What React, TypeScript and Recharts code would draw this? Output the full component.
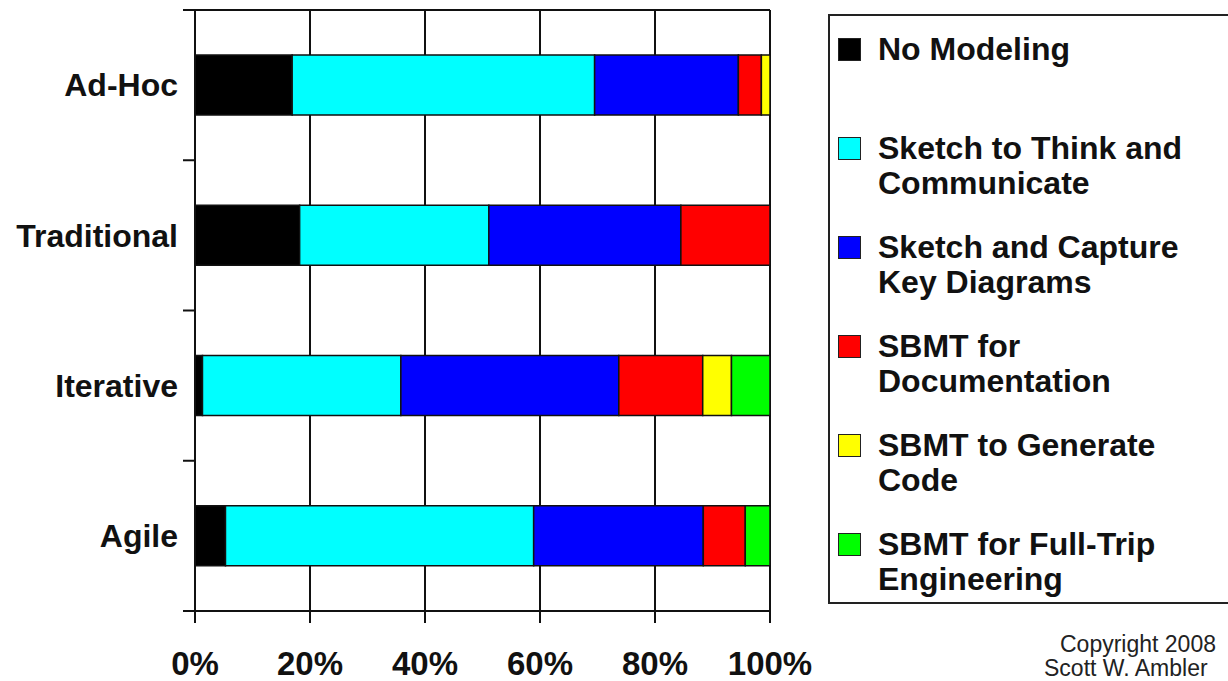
import React from 'react';
import { BarChart, Bar, XAxis, YAxis, CartesianGrid, Legend } from 'recharts';

// ---- data ----
const categories = ['Ad-Hoc', 'Traditional', 'Iterative', 'Agile'];
const noModeling = [16.9, 18.2, 1.3, 5.3];
const sketchThink = [52.6, 32.9, 34.5, 53.6];
const sketchCapture = [25.0, 33.4, 37.9, 29.5];
const sbmtDocumentation = [4.0, 15.5, 14.6, 7.3];
const sbmtGenerate = [1.5, 0, 5.0, 0];
const sbmtFullTrip = [0, 0, 6.7, 4.3];
const xTicks = [0, 20, 40, 60, 80, 100];

const seriesNames = [
  'No Modeling',
  'Sketch to Think and Communicate',
  'Sketch and Capture Key Diagrams',
  'SBMT for Documentation',
  'SBMT to Generate Code',
  'SBMT for Full-Trip Engineering',
];
const legendLines = [
  ['No Modeling'],
  ['Sketch to Think and', 'Communicate'],
  ['Sketch and Capture', 'Key Diagrams'],
  ['SBMT for', 'Documentation'],
  ['SBMT to Generate', 'Code'],
  ['SBMT for Full-Trip', 'Engineering'],
];
const seriesKeys = ['noModeling', 'sketchThink', 'sketchCapture', 'sbmtDocumentation', 'sbmtGenerate', 'sbmtFullTrip'];
const seriesValues = [noModeling, sketchThink, sketchCapture, sbmtDocumentation, sbmtGenerate, sbmtFullTrip];
const seriesColors = ['#000000', '#00FFFF', '#0000FF', '#FF0000', '#FFFF00', '#00FF00'];
const copyrightLines = ['Copyright 2008', 'Scott W. Ambler'];

const data = categories.map((name, i) => {
  const row: Record<string, any> = { name };
  seriesKeys.forEach((k, s) => {
    row[k] = seriesValues[s][i];
  });
  return row;
});

// ---- layout ----
const W = 1228;
const H = 681;
const MARGIN = { top: 9, right: 458, bottom: 0, left: 0 };
const TOP_AXIS_H = 1;
const X_AXIS_H = 70;
const Y_AXIS_W = 195;
const PLOT_H = H - MARGIN.top - MARGIN.bottom - TOP_AXIS_H - X_AXIS_H;
const BAND = PLOT_H / categories.length;
const FONT = '"Liberation Sans", Arial, Helvetica, sans-serif';
const INK = '#111';

const CategoryTick = (props: any) => {
  const { x, y, payload, index } = props;
  const half = BAND / 2;
  const lx1 = x + 5;
  const lx2 = x + 17;
  return (
    <g>
      <text
        x={x}
        y={y}
        dy="0.355em"
        textAnchor="end"
        fill={INK}
        style={{ fontFamily: FONT, fontSize: 32, fontWeight: 'bold' }}
      >
        {payload.value}
      </text>
      <line x1={lx1} x2={lx2} y1={y - half} y2={y - half} stroke={INK} strokeWidth={2} />
      {index === categories.length - 1 && (
        <line x1={lx1} x2={lx2} y1={y + half} y2={y + half} stroke={INK} strokeWidth={2} />
      )}
    </g>
  );
};

const LegendBox = (props: any) => {
  const payload: any[] = props.payload || [];
  return (
    <div
      style={{
        boxSizing: 'border-box',
        width: 430,
        height: 590,
        border: '2px solid #222',
        paddingTop: 16,
        background: '#fff',
        fontFamily: FONT,
        color: INK,
      }}
    >
      {seriesKeys.map((k, i) => {
        const entry = payload.find((p) => p.dataKey === k);
        const color = entry ? entry.color : seriesColors[i];
        return (
          <div key={k} style={{ position: 'relative', height: 99 }}>
            <div
              style={{
                position: 'absolute',
                left: 8,
                top: 6,
                width: 21,
                height: 21,
                background: color,
                border: '1.5px solid #222',
              }}
            />
            <div
              style={{
                position: 'absolute',
                left: 48,
                top: 0,
                fontSize: 32,
                lineHeight: '35px',
                fontWeight: 'bold',
                whiteSpace: 'nowrap',
              }}
            >
              {legendLines[i].map((l) => (
                <div key={l}>{l}</div>
              ))}
            </div>
          </div>
        );
      })}
    </div>
  );
};

export default function App() {
  return (
    <div style={{ position: 'relative', width: W, height: H, overflow: 'hidden', background: '#fff' }}>
      <style>{`body{margin:0;background:#fff;}`}</style>
      <BarChart width={W} height={H} data={data} layout="vertical" margin={MARGIN} barSize={60}>
        <CartesianGrid horizontal={false} vertical stroke={INK} strokeWidth={2} />
        <XAxis
          xAxisId="top"
          orientation="top"
          type="number"
          domain={[0, 100]}
          height={TOP_AXIS_H}
          tick={false}
          tickLine={false}
          axisLine={{ stroke: INK, strokeWidth: 2 }}
        />
        <XAxis
          type="number"
          domain={[0, 100]}
          ticks={xTicks}
          interval={0}
          tickFormatter={(v: number) => `${v}%`}
          height={X_AXIS_H}
          tickSize={12}
          tickMargin={29}
          axisLine={{ stroke: INK, strokeWidth: 2 }}
          tickLine={{ stroke: INK, strokeWidth: 2 }}
          tick={{ fill: INK, fontSize: 33, fontWeight: 'bold', fontFamily: FONT }}
        />
        <YAxis
          type="category"
          dataKey="name"
          width={Y_AXIS_W}
          tickSize={12}
          tickMargin={5}
          tickLine={false}
          axisLine={{ stroke: INK, strokeWidth: 2 }}
          tick={<CategoryTick />}
          interval={0}
        />
        <Legend
          layout="horizontal"
          verticalAlign="middle"
          align="center"
          content={<LegendBox />}
          wrapperStyle={{ left: 828, top: 14, width: 430, height: 590 }}
        />
        {seriesKeys.map((k, i) => (
          <Bar
            key={k}
            dataKey={k}
            name={seriesNames[i]}
            stackId="a"
            fill={seriesColors[i]}
            stroke={INK}
            strokeWidth={1.5}
            isAnimationActive={false}
          />
        ))}
      </BarChart>
      <div
        style={{
          position: 'absolute',
          left: 1060,
          top: 633,
          fontFamily: FONT,
          fontSize: 23,
          lineHeight: '23px',
          color: '#222',
          whiteSpace: 'nowrap',
        }}
      >
        {copyrightLines[0]}
      </div>
      <div
        style={{
          position: 'absolute',
          left: 1044,
          top: 657,
          fontFamily: FONT,
          fontSize: 23,
          lineHeight: '23px',
          color: '#222',
          whiteSpace: 'nowrap',
        }}
      >
        {copyrightLines[1]}
      </div>
    </div>
  );
}
